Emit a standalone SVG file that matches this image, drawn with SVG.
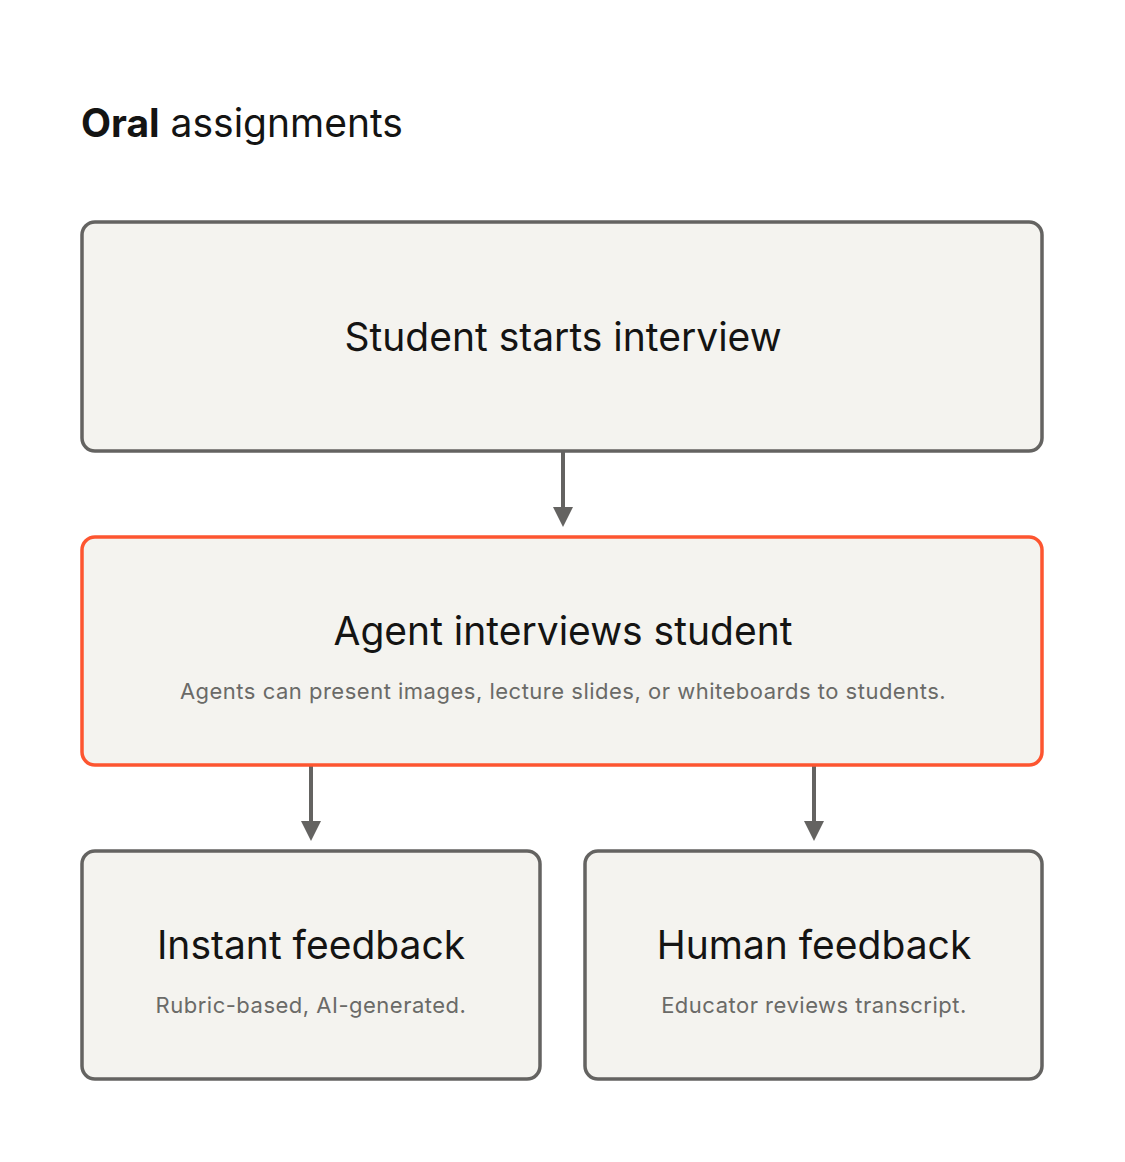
<svg xmlns="http://www.w3.org/2000/svg" width="1125" height="1162" viewBox="0 0 1125 1162">
<defs>
<style>
.box{fill:#f4f3ef;stroke:#646361;stroke-width:3.5}
.hl{fill:#f4f3ef;stroke:#fd5530;stroke-width:3.5}
.t{font-family:Inter,"Liberation Sans",sans-serif;font-size:39px;fill:#141413;text-anchor:middle}
.s{font-family:Inter,"Liberation Sans",sans-serif;font-size:22px;letter-spacing:0.5px;fill:#6a6a67;text-anchor:middle}
.c{stroke:#646361;stroke-width:4;fill:none}
</style>
<marker id="ah" markerWidth="6" markerHeight="5" refX="0" refY="2.5" orient="auto" markerUnits="strokeWidth">
<path d="M0,0 L5,2.5 L0,5 Z" fill="#646361"/>
</marker>
</defs>
<rect width="1125" height="1162" fill="#ffffff"/>
<text x="81" y="137" font-family="Inter,'Liberation Sans',sans-serif" font-size="39" fill="#141413"><tspan font-weight="bold">Oral</tspan> assignments</text>
<g id="connectors">
<line class="c" x1="563" y1="452" x2="563" y2="507" marker-end="url(#ah)"/>
<line class="c" x1="311" y1="766" x2="311" y2="821" marker-end="url(#ah)"/>
<line class="c" x1="814" y1="766" x2="814" y2="821" marker-end="url(#ah)"/>
</g>
<g id="start">
<rect class="box" x="82" y="222" width="960" height="229" rx="13"/>
<text class="t" x="563" y="351">Student starts interview</text>
</g>
<g id="agent">
<rect class="hl" x="82" y="537" width="960" height="228" rx="13"/>
<text class="t" x="563" y="645">Agent interviews student</text>
<text class="s" x="563" y="699">Agents can present images, lecture slides, or whiteboards to students.</text>
</g>
<g id="instant">
<rect class="box" x="82" y="851" width="458" height="228" rx="13"/>
<text class="t" x="311" y="959">Instant feedback</text>
<text class="s" x="311" y="1013">Rubric-based, AI-generated.</text>
</g>
<g id="human">
<rect class="box" x="585" y="851" width="457" height="228" rx="13"/>
<text class="t" x="814" y="959">Human feedback</text>
<text class="s" x="814" y="1013">Educator reviews transcript.</text>
</g>
</svg>
